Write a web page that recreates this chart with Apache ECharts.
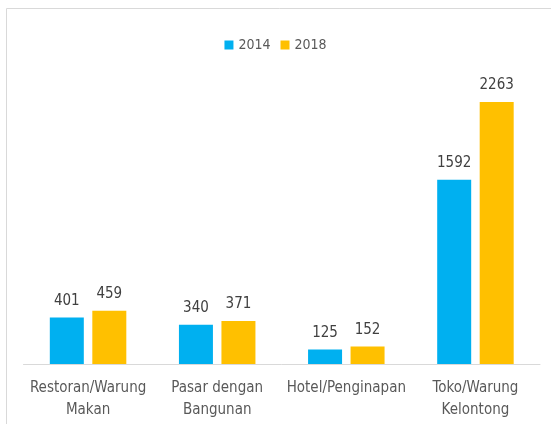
<!DOCTYPE html>
<html><head><meta charset="utf-8">
<script src="https://cdn.jsdelivr.net/npm/echarts@6/dist/echarts.min.js"></script>
<style>html,body{margin:0;padding:0;background:#fff}#c{width:551px;height:424px}</style>
</head><body><div id="c"></div>
<script>
var categories = ['Restoran/Warung\nMakan', 'Pasar dengan\nBangunan', 'Hotel/Penginapan', 'Toko/Warung\nKelontong'];
var values2014 = [401, 340, 125, 1592];
var values2018 = [459, 371, 152, 2263];
var seriesNames = ['2014', '2018'];
var FONT = '"Liberation Sans Narrow", "Arial Narrow", "DejaVu Sans Condensed", sans-serif';
var chart = echarts.init(document.getElementById('c'));
var lbl = {show: true, position: 'top', distance: 9, color: '#404040', fontSize: 15, fontFamily: FONT};
chart.setOption({
  animation: false,
  graphic: [{type: 'rect', shape: {x: 6.5, y: 8.5, width: 600, height: 500}, style: {fill: 'none', stroke: '#d9d9d9', lineWidth: 1}, silent: true}],
  legend: {top: 33, left: 'center', itemWidth: 9, itemHeight: 9, itemGap: 10, icon: 'rect',
    textStyle: {color: '#595959', fontSize: 14, fontFamily: FONT}},
  grid: {left: 23.5, right: 11, top: 74.5, bottom: 60, containLabel: false},
  xAxis: {type: 'category', data: categories,
    axisLine: {lineStyle: {color: '#d9d9d9', width: 1}}, axisTick: {show: false},
    axisLabel: {interval: 0, color: '#595959', fontSize: 15, fontFamily: FONT, margin: 13, lineHeight: 22}},
  yAxis: {type: 'value', min: 0, max: 2500, show: false, splitLine: {show: false}},
  series: [
    {name: seriesNames[0], type: 'bar', data: values2014, barWidth: 34, barGap: '25%', itemStyle: {color: '#00b0f0'}, label: lbl},
    {name: seriesNames[1], type: 'bar', data: values2018, barWidth: 34, itemStyle: {color: '#ffc000'}, label: lbl}
  ]
});
</script></body></html>
